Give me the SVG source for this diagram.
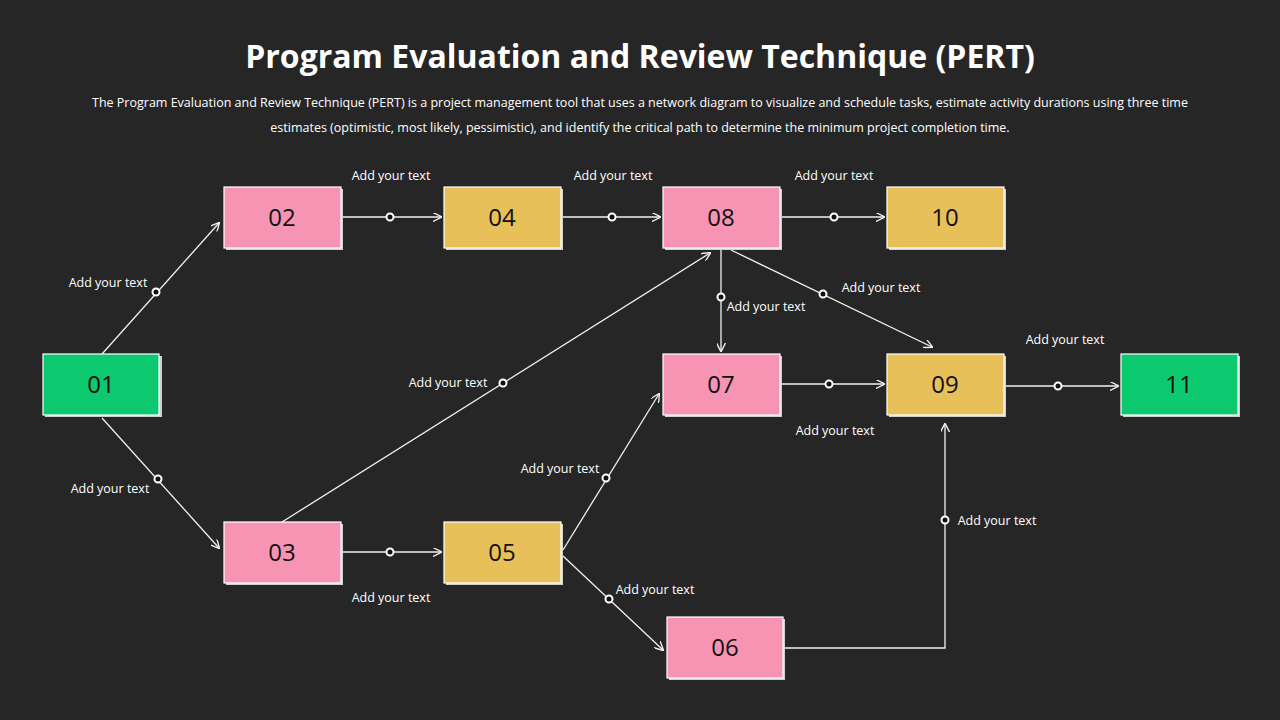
<svg xmlns="http://www.w3.org/2000/svg" width="1280" height="720" viewBox="0 0 1280 720">
<style>
.t{font-family:"Open Sans","Liberation Sans",sans-serif;fill:#fff}
.lb{font-family:"Open Sans","Liberation Sans",sans-serif;fill:#fff;font-size:12.5px}
.n text{font-family:"Open Sans","Liberation Sans",sans-serif;font-size:24px;fill:#111;text-anchor:middle}
.sh{fill:#cfcfcf}
.p{fill:#F794B4;stroke:#fff;stroke-width:1.2}
.g{fill:#E8C05A;stroke:#fff;stroke-width:1.2}
.e{fill:#0CC86E;stroke:#fff;stroke-width:1.2}
#conn path{fill:none;stroke:#f2f2f2;stroke-width:1.3;marker-end:url(#a)}
#conn circle{fill:#111;stroke:#fff;stroke-width:2}
</style>
<defs><marker id="a" viewBox="0 0 10 10" refX="9" refY="5" markerWidth="9" markerHeight="9" markerUnits="userSpaceOnUse" orient="auto"><path d="M0,0 L10,5 L0,10" fill="none" stroke="#f2f2f2" stroke-width="1.5"/></marker></defs>
<rect width="1280" height="720" fill="#262626"/>
<text class="t" x="640" y="68" text-anchor="middle" font-size="32" font-weight="bold">Program Evaluation and Review Technique (PERT)</text>
<text class="t" x="640" y="107" text-anchor="middle" font-size="12.5">The Program Evaluation and Review Technique (PERT) is a project management tool that uses a network diagram to visualize and schedule tasks, estimate activity durations using three time</text>
<text class="t" x="640" y="132" text-anchor="middle" font-size="12.5">estimates (optimistic, most likely, pessimistic), and identify the critical path to determine the minimum project completion time.</text>
<g id="conn">
<path d="M102,354 L219,223"/><circle cx="156" cy="292" r="3.5"/>
<path d="M102,418 L219,548"/><circle cx="158" cy="479" r="3.5"/>
<path d="M341,217 L441,217"/><circle cx="390" cy="217" r="3.5"/>
<path d="M561,217 L660,217"/><circle cx="612" cy="217" r="3.5"/>
<path d="M780,217 L884,217"/><circle cx="834" cy="217" r="3.5"/>
<path d="M282,522 L710,253"/><circle cx="503" cy="383" r="3.5"/>
<path d="M721,250 L721,351"/><circle cx="721" cy="297" r="3.5"/>
<path d="M731,250 L932,347"/><circle cx="823" cy="294" r="3.5"/>
<path d="M780,384 L884,384"/><circle cx="829" cy="384" r="3.5"/>
<path d="M1004,386 L1118,386"/><circle cx="1058" cy="386" r="3.5"/>
<path d="M341,552 L441,552"/><circle cx="390" cy="552" r="3.5"/>
<path d="M563,550 L659,394"/><circle cx="606" cy="478" r="3.5"/>
<path d="M563,556 L663,650"/><circle cx="609" cy="599" r="3.5"/>
<path d="M783,648 L945,648 L945,424"/><circle cx="945" cy="520" r="3.5"/>
</g>
<g id="labels">
<text class="lb" x="391" y="180" text-anchor="middle">Add your text</text>
<text class="lb" x="613" y="180" text-anchor="middle">Add your text</text>
<text class="lb" x="834" y="180" text-anchor="middle">Add your text</text>
<text class="lb" x="108" y="287" text-anchor="middle">Add your text</text>
<text class="lb" x="110" y="493" text-anchor="middle">Add your text</text>
<text class="lb" x="766" y="311" text-anchor="middle">Add your text</text>
<text class="lb" x="881" y="292" text-anchor="middle">Add your text</text>
<text class="lb" x="448" y="387" text-anchor="middle">Add your text</text>
<text class="lb" x="1065" y="344" text-anchor="middle">Add your text</text>
<text class="lb" x="835" y="435" text-anchor="middle">Add your text</text>
<text class="lb" x="560" y="473" text-anchor="middle">Add your text</text>
<text class="lb" x="997" y="525" text-anchor="middle">Add your text</text>
<text class="lb" x="655" y="594" text-anchor="middle">Add your text</text>
<text class="lb" x="391" y="602" text-anchor="middle">Add your text</text>
</g>
<g id="n01" class="n"><rect class="sh" x="45" y="356" width="117" height="61"/><rect class="e" x="43" y="354" width="116" height="61"/><text x="101" y="393">01</text></g>
<g id="n02" class="n"><rect class="sh" x="226" y="189" width="117" height="61"/><rect class="p" x="224" y="187" width="117" height="61"/><text x="282" y="226">02</text></g>
<g id="n03" class="n"><rect class="sh" x="226" y="524" width="117" height="61"/><rect class="p" x="224" y="522" width="117" height="61"/><text x="282" y="561">03</text></g>
<g id="n04" class="n"><rect class="sh" x="446" y="189" width="117" height="61"/><rect class="g" x="444" y="187" width="117" height="61"/><text x="502" y="226">04</text></g>
<g id="n05" class="n"><rect class="sh" x="446" y="524" width="117" height="61"/><rect class="g" x="444" y="522" width="117" height="61"/><text x="502" y="561">05</text></g>
<g id="n06" class="n"><rect class="sh" x="669" y="619" width="116" height="61"/><rect class="p" x="667" y="617" width="116" height="61"/><text x="725" y="656">06</text></g>
<g id="n07" class="n"><rect class="sh" x="665" y="356" width="117" height="61"/><rect class="p" x="663" y="354" width="117" height="61"/><text x="721" y="393">07</text></g>
<g id="n08" class="n"><rect class="sh" x="665" y="189" width="117" height="61"/><rect class="p" x="663" y="187" width="117" height="61"/><text x="721" y="226">08</text></g>
<g id="n09" class="n"><rect class="sh" x="889" y="356" width="117" height="61"/><rect class="g" x="887" y="354" width="117" height="61"/><text x="945" y="393">09</text></g>
<g id="n10" class="n"><rect class="sh" x="889" y="189" width="117" height="61"/><rect class="g" x="887" y="187" width="117" height="61"/><text x="945" y="226">10</text></g>
<g id="n11" class="n"><rect class="sh" x="1123" y="356" width="117" height="61"/><rect class="e" x="1121" y="354" width="117" height="61"/><text x="1179" y="393">11</text></g>
</svg>
